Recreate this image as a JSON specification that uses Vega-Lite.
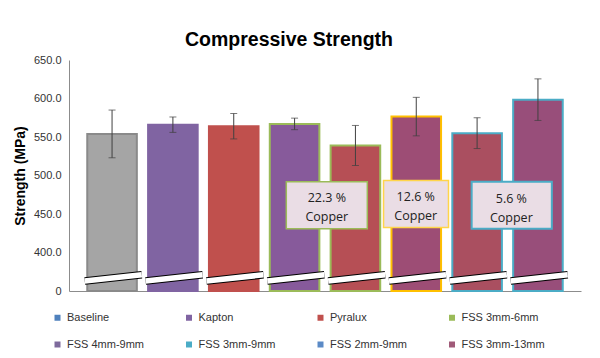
{
  "$schema": "https://vega.github.io/schema/vega-lite/v6.json",
  "width": 512,
  "height": 231,
  "autosize": {"type": "none"},
  "padding": {"left": 69, "top": 60, "right": 19, "bottom": 67},
  "background": "white",
  "title": {
    "text": "Compressive Strength",
    "font": "Liberation Sans",
    "fontSize": 19.5,
    "fontWeight": "bold",
    "color": "#000000",
    "anchor": "middle",
    "dx": -36,
    "offset": 4
  },
  "config": {
    "view": {"stroke": null},
    "font": "Liberation Sans",
    "axisY": {"labelOverlap": false, "tickCount": 7}
  },
  "datasets": {
    "bars": [
      {"category": "Baseline", "strength": 554, "err": 31},
      {"category": "Kapton", "strength": 566, "err": 10},
      {"category": "Pyralux", "strength": 564, "err": 16.5},
      {"category": "FSS 3mm-6mm", "strength": 567, "err": 7.5},
      {"category": "FSS 4mm-9mm", "strength": 539, "err": 26},
      {"category": "FSS 3mm-9mm", "strength": 576.5, "err": 25},
      {"category": "FSS 2mm-9mm", "strength": 555, "err": 20},
      {"category": "FSS 3mm-13mm", "strength": 598.5, "err": 27}
    ],
    "legendEntries": [
      {"series": "Baseline"},
      {"series": "Kapton"},
      {"series": "Pyralux"},
      {"series": "FSS 3mm-6mm"},
      {"series": "FSS 4mm-9mm"},
      {"series": "FSS 3mm-9mm"},
      {"series": "FSS 2mm-9mm"},
      {"series": "FSS 3mm-13mm"}
    ]
  },
  "data": {"name": "bars"},
  "layer": [
    {
      "data": {"name": "legendEntries"},
      "mark": {"type": "point", "shape": "square", "filled": true, "opacity": 1, "size": 36},
      "encoding": {
        "x": {"datum": "Baseline"},
        "y": {
          "datum": 420,
          "type": "quantitative",
          "title": "Strength (MPa)",
          "scale": {"domain": [350, 650], "zero": false, "nice": false},
          "axis": {
            "values": [350, 400, 450, 500, 550, 600, 650],
            "labelExpr": "datum.value == 350 ? '0' : format(datum.value, '.1f')",
            "labelOverlap": false,
            "title": "Strength (MPa)",
            "titleFont": "Liberation Sans",
            "titleFontSize": 14,
            "titleFontWeight": "bold",
            "titleColor": "#000000",
            "titlePadding": 6,
            "labelFont": "Liberation Sans",
            "labelFontSize": 11,
            "labelColor": "#333333",
            "labelPadding": 8,
            "ticks": false,
            "domainColor": "#8C8C8C",
            "gridColor": "#D9D9D9"
          }
        },
        "color": {
          "field": "series",
          "type": "nominal",
          "scale": {
            "domain": ["Baseline", "Kapton", "Pyralux", "FSS 3mm-6mm", "FSS 4mm-9mm", "FSS 3mm-9mm", "FSS 2mm-9mm", "FSS 3mm-13mm"],
            "range": ["#4F81BD", "#8064A2", "#C0504D", "#9BBB59", "#7E6A9C", "#4BACC6", "#5B8AC6", "#A05A78"]
          },
          "legend": {
            "orient": "none",
            "legendX": -17,
            "legendY": 252,
            "direction": "horizontal",
            "columns": 4,
            "gridAlign": "all",
            "columnPadding": 32.5,
            "rowPadding": 15,
            "symbolType": "square",
            "symbolSize": 36,
            "symbolStrokeWidth": 0,
            "labelFont": "Liberation Sans",
            "labelFontSize": 11,
            "labelColor": "#333333",
            "labelOffset": 4,
            "title": null
          }
        }
      }
    },
    {
      "mark": {"type": "bar", "strokeWidth": 2},
      "encoding": {
        "x": {
          "field": "category",
          "type": "nominal",
          "sort": null,
          "scale": {
            "domain": ["Baseline", "Kapton", "Pyralux", "FSS 3mm-6mm", "FSS 4mm-9mm", "FSS 3mm-9mm", "FSS 2mm-9mm", "FSS 3mm-13mm"],
            "paddingInner": 0.185,
            "paddingOuter": 0.3
          },
          "axis": {"labels": false, "ticks": false, "title": null, "domainColor": "#8C8C8C", "grid": false}
        },
        "y": {
          "field": "strength",
          "type": "quantitative",
          "title": "Strength (MPa)",
          "axis": {
            "values": [350, 400, 450, 500, 550, 600, 650],
            "labelExpr": "datum.value == 350 ? '0' : format(datum.value, '.1f')",
            "labelOverlap": false,
            "title": "Strength (MPa)",
            "titleFont": "Liberation Sans",
            "titleFontSize": 14,
            "titleFontWeight": "bold",
            "titleColor": "#000000",
            "titlePadding": 6,
            "labelFont": "Liberation Sans",
            "labelFontSize": 11,
            "labelColor": "#333333",
            "labelPadding": 8,
            "ticks": false,
            "domainColor": "#8C8C8C",
            "gridColor": "#D9D9D9"
          }
        },
        "y2": {"datum": 350},
        "fill": {
          "field": "category",
          "type": "nominal",
          "legend": null,
          "scale": {
            "domain": ["Baseline", "Kapton", "Pyralux", "FSS 3mm-6mm", "FSS 4mm-9mm", "FSS 3mm-9mm", "FSS 2mm-9mm", "FSS 3mm-13mm"],
            "range": ["#A5A5A5", "#8064A2", "#C0504D", "#875A9B", "#B64F55", "#9D4D75", "#AA4F60", "#984E7A"]
          }
        },
        "stroke": {
          "field": "category",
          "type": "nominal",
          "legend": null,
          "scale": {
            "domain": ["Baseline", "Kapton", "Pyralux", "FSS 3mm-6mm", "FSS 4mm-9mm", "FSS 3mm-9mm", "FSS 2mm-9mm", "FSS 3mm-13mm"],
            "range": ["#8A8A8A", "#8064A2", "#C0504D", "#9BBB59", "#9BBB59", "#FFC000", "#4BACC6", "#4BACC6"]
          }
        }
      }
    },
    {
      "mark": {"type": "errorbar", "ticks": {"size": 7}, "color": "#404040", "thickness": 1},
      "encoding": {
        "x": {"field": "category", "type": "nominal", "sort": null},
        "y": {"field": "strength", "type": "quantitative", "title": "Strength (MPa)"},
        "yError": {"field": "err"}
      }
    },
    {
      "mark": {"type": "rule", "color": "#000000", "strokeWidth": 7.5},
      "encoding": {
        "x": {"field": "category", "type": "nominal", "sort": null, "bandPosition": -0.05},
        "x2": {"field": "category", "bandPosition": 1.1},
        "y": {"datum": 363},
        "y2": {"datum": 371}
      }
    },
    {
      "mark": {"type": "rule", "color": "#FFFFFF", "strokeWidth": 5.5},
      "encoding": {
        "x": {"field": "category", "type": "nominal", "sort": null, "bandPosition": -0.05},
        "x2": {"field": "category", "bandPosition": 1.1},
        "y": {"datum": 363},
        "y2": {"datum": 371}
      }
    },
    {
      "data": {"values": [{"from": "FSS 3mm-6mm", "to": "FSS 4mm-9mm", "label": ["22.3 %", "Copper"]}]},
      "layer": [
        {
          "mark": {"type": "rect", "fill": "#EADDE5", "stroke": "#9BBB59", "strokeWidth": 1.5},
          "encoding": {
            "x": {"field": "from", "type": "nominal", "bandPosition": 0.333},
            "x2": {"field": "to", "bandPosition": 0.74},
            "y": {"datum": 492},
            "y2": {"datum": 431}
          }
        },
        {
          "mark": {"type": "text", "font": "Open Sans", "fontSize": 12.5, "color": "#222222", "lineHeight": 19, "baseline": "middle", "align": "center", "dy": -7},
          "encoding": {
            "x": {"field": "from", "type": "nominal", "bandPosition": 1.15},
            "y": {"datum": 461.5},
            "text": {"field": "label"}
          }
        }
      ]
    },
    {
      "data": {"values": [{"from": "FSS 3mm-9mm", "to": "FSS 3mm-9mm", "label": ["12.6 %", "Copper"]}]},
      "layer": [
        {
          "mark": {"type": "rect", "fill": "#EADDE5", "stroke": "#FFD54A", "strokeWidth": 1.5},
          "encoding": {
            "x": {"field": "from", "type": "nominal", "bandPosition": -0.16},
            "x2": {"field": "to", "bandPosition": 1.15},
            "y": {"datum": 493.5},
            "y2": {"datum": 432.5}
          }
        },
        {
          "mark": {"type": "text", "font": "Open Sans", "fontSize": 12.5, "color": "#222222", "lineHeight": 19, "baseline": "middle", "align": "center", "dy": -7},
          "encoding": {
            "x": {"field": "from", "type": "nominal", "bandPosition": 0.49},
            "y": {"datum": 463},
            "text": {"field": "label"}
          }
        }
      ]
    },
    {
      "data": {"values": [{"from": "FSS 2mm-9mm", "to": "FSS 3mm-13mm", "label": ["5.6 %", "Copper"]}]},
      "layer": [
        {
          "mark": {"type": "rect", "fill": "#EADDE5", "stroke": "#4BACC6", "strokeWidth": 2},
          "encoding": {
            "x": {"field": "from", "type": "nominal", "bandPosition": 0.39},
            "x2": {"field": "to", "bandPosition": 0.78},
            "y": {"datum": 492},
            "y2": {"datum": 431}
          }
        },
        {
          "mark": {"type": "text", "font": "Open Sans", "fontSize": 12.5, "color": "#222222", "lineHeight": 19, "baseline": "middle", "align": "center", "dy": -7},
          "encoding": {
            "x": {"field": "from", "type": "nominal", "bandPosition": 1.19},
            "y": {"datum": 461},
            "text": {"field": "label"}
          }
        }
      ]
    }
  ]
}
